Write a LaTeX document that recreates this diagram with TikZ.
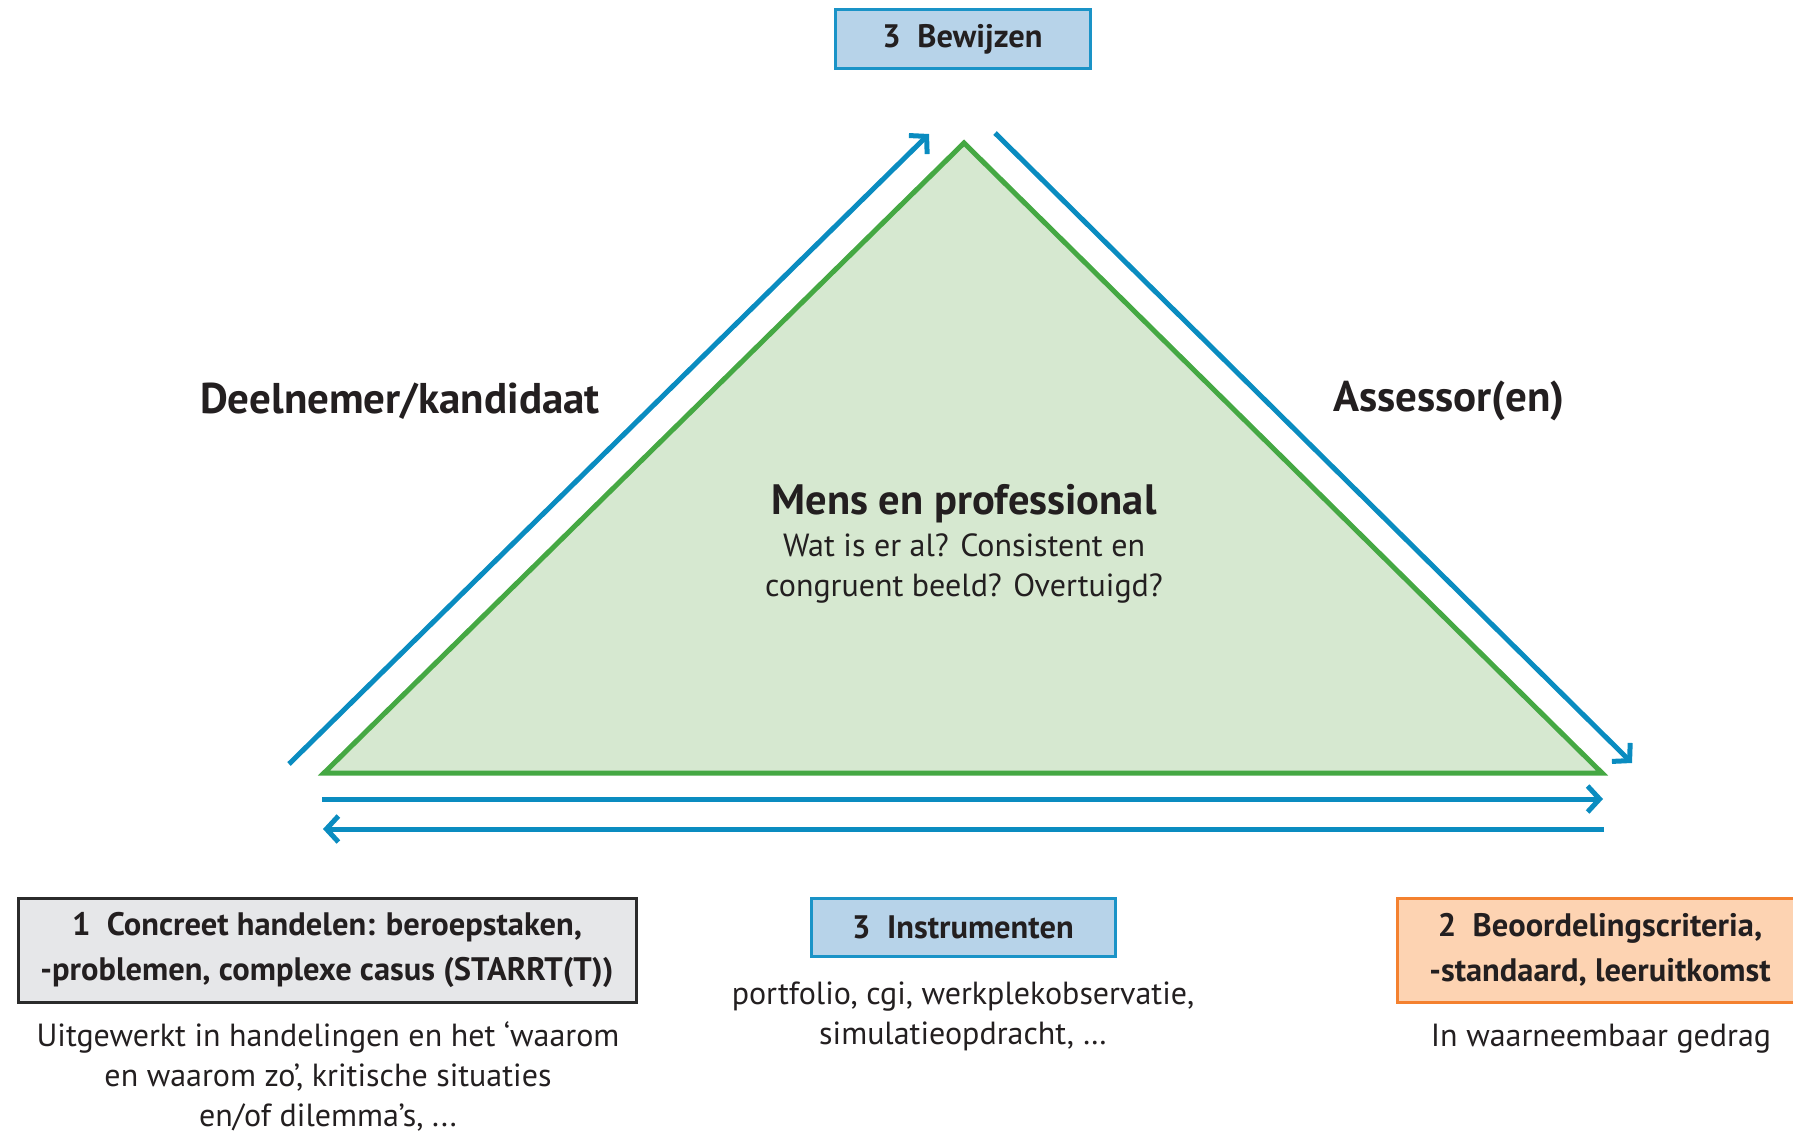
\documentclass[tikz,border=0pt]{standalone}
\usepackage{fontspec}
\setmainfont{PT Sans}
\usetikzlibrary{arrows.meta}
\definecolor{ablue}{HTML}{0A8CC0}
\definecolor{tgreen}{HTML}{45A843}
\definecolor{tgreenfill}{HTML}{D6E8D0}
\definecolor{bxblue}{HTML}{B7D3E9}
\definecolor{bxblueline}{HTML}{1A93C7}
\definecolor{bxgray}{HTML}{E6E7E9}
\definecolor{bxgrayline}{HTML}{2B2B2B}
\definecolor{bxorange}{HTML}{FDD3B2}
\definecolor{bxorangeline}{HTML}{F4812F}
\definecolor{txt}{HTML}{231F20}
\begin{document}
\begin{tikzpicture}[x=1pt,y=-1pt,
  flow/.style={draw=ablue,line width=5pt,-{Straight Barb[length=12pt,width=26pt,line width=5pt]}},
  headbox/.style={line width=3pt,inner sep=0pt,align=center,text=txt,font=\bfseries\fontsize{32.5}{45}\selectfont},
  side/.style={text=txt,font=\bfseries\fontsize{43}{45}\selectfont,inner sep=0pt},
  body/.style={text=txt,align=center,font=\fontsize{32}{40}\selectfont,inner sep=0pt},
]
\useasboundingbox (0,0) rectangle (1793,1132);
\coordinate (apex) at (964,143);
\coordinate (bl) at (324,773);
\coordinate (br) at (1602,773);
\path[fill=tgreenfill,draw=tgreen,line width=5pt,line join=miter] (apex) -- (bl) -- (br) -- cycle;

\coordinate (la) at (289,764);
\coordinate (lb) at (929,134);
\coordinate (ra) at (995,133);
\coordinate (rb) at (1632,763);
\draw[flow] (la) -- (lb);
\draw[flow] (ra) -- (rb);
\coordinate (h1a) at (322,799);
\coordinate (h1b) at (1603,799);
\coordinate (h2a) at (1604,829);
\coordinate (h2b) at (323,829);
\draw[flow] (h1a) -- (h1b);
\draw[flow] (h2a) -- (h2b);

\node[headbox,fill=bxblue,draw=bxblueline,minimum width=255pt,minimum height=59pt] (bew) at (962.5,39.5) {3\ \ Bewijzen};

\node[side] (deel) at (400,401) {Deelnemer/kandidaat};
\node[side] (ass) at (1449,401) {Assessor(en)};

\node[side,font=\bfseries\fontsize{42.5}{45}\selectfont] (mens) at (964,504) {Mens en professional};
\node[body] (wat) at (964,568) {Wat is er al? Consistent en\\congruent beeld? Overtuigd?};

\node[headbox,fill=bxgray,draw=bxgrayline,minimum width=618pt,minimum height=104pt] (b1) at (327,950) {1\ \ Concreet handelen: beroepstaken,\\-problemen, complexe casus (STARRT(T))};
\node[body] (t1) at (328,1076) {Uitgewerkt in handelingen en het ‘waarom\\en waarom zo’, kritische situaties\\en/of dilemma’s, ...};

\node[headbox,fill=bxblue,draw=bxblueline,minimum width=304pt,minimum height=58pt] (b3) at (963,927) {3\ \ Instrumenten};
\node[body] (t3) at (963,1016) {portfolio, cgi, werkplekobservatie,\\simulatieopdracht, …};

\node[headbox,fill=bxorange,draw=bxorangeline,minimum width=398pt,minimum height=104pt] (b2) at (1596,950) {};
\node[headbox] (b2t) at (1600,950) {2\ \ Beoordelingscriteria,\\-standaard, leeruitkomst};
\node[body] (t2) at (1601,1039) {In waarneembaar gedrag};
\end{tikzpicture}
\end{document}
